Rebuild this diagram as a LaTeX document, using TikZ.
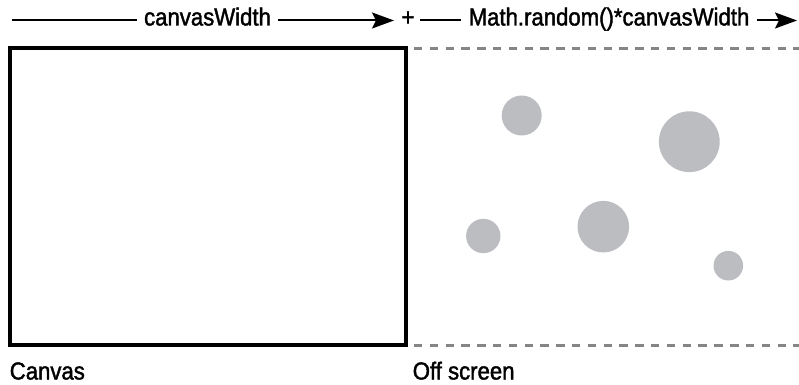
\documentclass[tikz,border=0pt]{standalone}
\usepackage{fontspec}
\setmainfont[FakeStretch=0.9, FakeBold=1.6]{Liberation Sans}
\usetikzlibrary{arrows.meta,positioning}

\definecolor{blobgray}{HTML}{BCBDC0}
\definecolor{dashgray}{HTML}{858585}

\begin{document}
\begin{tikzpicture}[
  x=0.025cm, y=-0.025cm,
  lbl/.style={font=\fontsize{17.5}{19}\selectfont, inner sep=0pt},
  dimtext/.style={lbl, inner xsep=5pt},
  dimline/.style={line width=0.05cm},
  dimarrow/.style={dimline, -{Stealth[length=0.55cm, width=0.4cm, inset=0.1cm]}},
  canvasbox/.style={draw, line width=0.1cm, minimum width=9.905cm, minimum height=7.4cm, inner sep=0pt},
  offline/.style={draw=dashgray, line width=0.075cm, dash pattern=on 0.21cm off 0.185cm},
  blob/.style={circle, fill=blobgray, inner sep=0pt, minimum size=#1}
]
\useasboundingbox (0,0) rectangle (799,385);

% canvas and off screen area
\node[canvasbox] (canvas) at (207.9,196.5) {};
\coordinate (offtopL) at (414,48.3);
\coordinate (offtopR) at (799,48.3);
\coordinate (offbotL) at (414,345);
\coordinate (offbotR) at (799,345);
\draw[offline] (offtopL) -- (offtopR);
\draw[offline] (offbotL) -- (offbotR);

% dimensions
\node[dimtext, anchor=base] (cw) at (207.5,25.5) {canvasWidth};
\node[lbl, anchor=base] (plus) at (408,25.5) {+};
\node[dimtext, anchor=base] (rw) at (609,25.5) {Math.random()*canvasWidth};
\coordinate (cwL) at (11.5,20.5);
\coordinate (cwR) at (394,20.5);
\coordinate (rwL) at (420,20.5);
\coordinate (rwR) at (797,20.5);
\draw[dimline] (cwL) -- (cwL -| cw.west);
\draw[dimarrow] (cwR -| cw.east) -- (cwR);
\draw[dimline] (rwL) -- (rwL -| rw.west);
\draw[dimarrow] (rwR -| rw.east) -- (rwR);

% objects off screen
\node[blob=1cm] (b1) at (521.7,115.5) {};
\node[blob=1.52cm] (b2) at (689.3,141.7) {};
\node[blob=0.86cm] (b3) at (483.3,236) {};
\node[blob=1.29cm] (b4) at (603.3,226.7) {};
\node[blob=0.74cm] (b5) at (728.3,265.7) {};

% captions
\node[lbl, anchor=base west] (canvaslbl) at (9.5,379.5) {Canvas};
\node[lbl, anchor=base west] (offlbl) at (412.5,379.5) {Off screen};
\end{tikzpicture}
\end{document}
